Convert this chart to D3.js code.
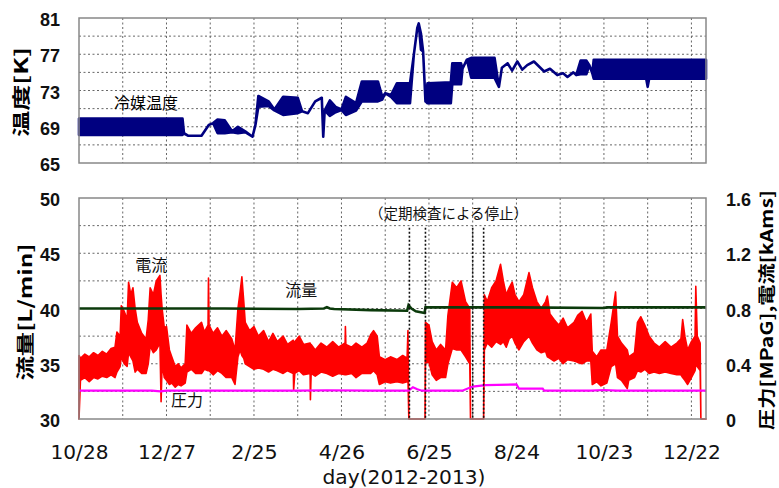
<!DOCTYPE html>
<html>
<head>
<meta charset="utf-8">
<script src="https://cdn.jsdelivr.net/npm/d3@7"></script>
<style>
body { margin: 0; background: #fff; }
svg { display: block; }
</style>
</head>
<body>
<div id="chart"></div>
<script>
// days counted from 2012-10-28
const xTickDays = [0, 60, 120, 180, 240, 300, 360, 420];
const xTickLabels = ['10/28', '12/27', '2/25', '4/26', '6/25', '8/24', '10/23', '12/22'];
const tempTicks = [65, 69, 73, 77, 81];
const flowTicks = [30, 35, 40, 45, 50];
const rightTicks = [0, 0.4, 0.8, 1.2, 1.6];

// coolant temperature [K] : low / high of the band at each day
const tempDay = [0, 71, 72, 75, 84, 89, 92, 95, 100, 105, 109, 114, 119, 121, 123, 130, 134, 140, 150, 153, 157, 162, 166.5, 167.5, 168.5, 172, 176, 180, 183, 190, 194, 205, 208, 210, 214, 218, 227, 229.6, 232, 233, 234.5, 236, 237.6, 239, 255, 256, 262, 263, 266, 269, 285, 288, 290, 294, 297, 300.6, 304, 307.4, 312, 319, 323, 328, 332, 335, 339, 341, 344, 348, 350, 352, 353, 368, 389, 390, 391, 430];
const tempLo  = [68.1, 68.1, 68.25, 68.0, 68.0, 69.2, 69.4, 68.3, 68.3, 68.4, 68.3, 68.4, 67.9, 69.2, 71.2, 71.3, 70.8, 70.3, 70.5, 70.7, 70.5, 71.8, 72.2, 67.9, 70.8, 70.2, 70.6, 70.85, 70.3, 70.8, 71.8, 71.8, 72.0, 72.7, 72.3, 71.6, 71.6, 76.9, 79.9, 80.4, 77.5, 77.3, 71.8, 71.6, 71.6, 73.7, 73.7, 75.4, 76.4, 74.4, 74.4, 73.4, 75.5, 76.0, 75.2, 76.2, 75.3, 75.8, 76.2, 75.1, 75.4, 74.7, 74.9, 74.5, 75.0, 74.7, 74.8, 74.8, 75.8, 74.9, 74.3, 74.3, 74.3, 73.4, 74.3, 74.3];
const tempHi  = [69.9, 69.9, 68.3, 68.0, 68.0, 69.2, 69.4, 69.8, 69.7, 68.5, 69.0, 68.5, 67.9, 69.2, 72.4, 71.8, 70.9, 72.3, 72.2, 70.7, 70.5, 71.8, 72.2, 67.9, 70.8, 71.9, 71.2, 70.9, 72.3, 71.6, 74.0, 74.0, 72.3, 72.7, 72.5, 73.8, 73.8, 76.9, 79.9, 80.4, 79.3, 77.3, 71.8, 73.8, 73.9, 76.0, 76.0, 75.4, 76.4, 76.6, 76.6, 73.4, 75.5, 76.0, 75.2, 76.2, 75.3, 75.8, 76.2, 75.1, 75.4, 74.7, 74.9, 74.5, 75.0, 74.7, 76.3, 76.3, 75.8, 74.9, 76.4, 76.4, 76.4, 76.4, 76.4, 76.4];

// current [kArms] : low / high of the band
const curDay = [
    0, 1, 4, 7, 10, 13, 16, 19, 22, 24.7,
    26, 28.2, 29, 31, 33, 34, 35.5, 37, 38.5, 40,
    43, 46, 47.5, 48.8, 51, 53, 55.5, 56.3, 57, 58.5,
    60, 62, 63.6, 66, 68, 70, 72.8, 74, 77, 80,
    84, 86, 88.5, 88.8, 89.2, 92, 95, 98, 101, 104.8,
    107, 109, 110.5, 111.7, 113, 114, 117, 120, 123, 126.6,
    130, 133, 136, 140, 143, 147, 147.2, 148, 151, 154,
    158.5, 158.7, 159.2, 162, 166, 170, 174, 178, 182.5, 182.7,
    183, 187, 190, 194, 197.6, 200, 202, 204.5, 206, 210,
    213.6, 218, 222, 225, 225.6, 226.2, 237.3, 237.6, 240, 242.2,
    245, 248, 251.4, 253, 256, 259, 262, 265.1, 268, 268.5,
    277.5, 278, 280, 283, 286, 289.1, 291, 293, 295, 297.1,
    299, 301.7, 305, 308.6, 311, 314, 317, 320, 321.2, 323,
    325.8, 329, 332, 335, 339.5, 342, 345, 348, 351, 352,
    355, 358, 362, 365, 368, 369.3, 372, 376, 377, 381,
    383, 385.3, 388, 391, 394.4, 398, 402, 406, 410, 412.8,
    414, 415.5, 417.4, 420, 422.5, 423, 424, 426, 426.5, 430];
const curLo = [
    0, 0.28, 0.3, 0.27, 0.3, 0.29, 0.31, 0.3, 0.32, 0.3,
    0.34, 0.38, 0.45, 0.4, 0.38, 0.48, 0.45, 0.42, 0.34, 0.36,
    0.33, 0.33, 0.4, 0.53, 0.48, 0.5, 0.55, 0.125, 0.4, 0.3,
    0.28, 0.25, 0.26, 0.23, 0.25, 0.24, 0.26, 0.34, 0.36, 0.33,
    0.33, 0.36, 0.35, 0.4, 0.35, 0.32, 0.35, 0.33, 0.3, 0.3,
    0.25, 0.45, 0.5, 0.46, 0.44, 0.4, 0.38, 0.36, 0.37, 0.36,
    0.34, 0.36, 0.35, 0.33, 0.35, 0.33, 0.21, 0.33, 0.35, 0.32,
    0.33, 0.14, 0.33, 0.31, 0.34, 0.33, 0.31, 0.33, 0.32, 0.33,
    0.32, 0.33, 0.3, 0.33, 0.33, 0.33, 0.35, 0.32, 0.25, 0.27,
    0.26, 0.27, 0.26, 0.27, 0.3, 0, 0, 0.41, 0.41, 0.32,
    0.28, 0.3, 0.3, 0.4, 0.51, 0.5, 0.5, 0.45, 0.4, 0,
    0, 0.5, 0.55, 0.52, 0.56, 0.54, 0.56, 0.52, 0.58, 0.6,
    0.55, 0.5, 0.56, 0.6, 0.55, 0.5, 0.48, 0.49, 0.45, 0.44,
    0.42, 0.44, 0.4, 0.43, 0.42, 0.41, 0.4, 0.42, 0.42, 0.25,
    0.27, 0.24, 0.26, 0.38, 0.4, 0.3, 0.28, 0.22, 0.28, 0.3,
    0.35, 0.34, 0.36, 0.33, 0.34, 0.33, 0.34, 0.33, 0.32, 0.32,
    0.3, 0.28, 0.25, 0.3, 0.35, 0.4, 0.38, 0.35, 0, 0];
const curHi = [
    0.46, 0.44, 0.47, 0.45, 0.48, 0.46, 0.49, 0.47, 0.51, 0.52,
    0.63, 0.6, 0.82, 0.78, 0.72, 0.99, 0.9, 0.95, 0.8, 0.7,
    0.62, 0.58, 0.72, 0.95, 0.9, 1.0, 1.04, 0.9, 0.8, 0.66,
    0.67, 0.5, 0.45, 0.38, 0.4, 0.37, 0.4, 0.68, 0.62, 0.66,
    0.7, 0.63, 0.68, 1.02, 0.68, 0.62, 0.66, 0.6, 0.64, 0.58,
    0.5, 0.8, 0.92, 1.03, 0.85, 0.7, 0.64, 0.67, 0.6, 0.64,
    0.56, 0.62, 0.56, 0.6, 0.54, 0.57, 0.55, 0.56, 0.6, 0.54,
    0.55, 0.52, 0.54, 0.5, 0.55, 0.52, 0.56, 0.52, 0.55, 0.67,
    0.54, 0.52, 0.55, 0.52, 0.55, 0.61, 0.64, 0.6, 0.45, 0.43,
    0.45, 0.43, 0.46, 0.44, 0.64, 0, 0, 0.7, 0.68, 0.56,
    0.5, 0.54, 0.5, 0.75, 0.99, 0.95, 1.0, 0.85, 0.8, 0,
    0, 0.9, 0.85, 0.95, 1.0, 1.12, 1.0, 0.9, 0.95, 0.99,
    0.9, 0.85, 0.9, 1.06, 0.95, 0.85, 0.8, 0.85, 0.89, 0.76,
    0.72, 0.68, 0.73, 0.66, 0.7, 0.75, 0.78, 0.7, 0.76, 0.49,
    0.45, 0.5, 0.5, 0.7, 0.92, 0.6, 0.55, 0.5, 0.45, 0.48,
    0.7, 0.74, 0.68, 0.6, 0.55, 0.52, 0.56, 0.52, 0.55, 0.58,
    0.72, 0.6, 0.5, 0.56, 0.6, 0.96, 0.6, 0.55, 0, 0];

// flow [L/min]
const flowDay = [0, 60, 100, 150, 168, 170, 172, 175, 200, 225, 226, 228, 231, 237, 237.6, 300, 360, 362, 364, 420, 430];
const flowVal = [40.0, 40.0, 40.0, 39.95, 40.0, 40.12, 40.0, 39.95, 39.85, 39.8, 40.3, 40.0, 39.75, 39.6, 40.1, 40.1, 40.05, 40.1, 40.1, 40.1, 40.1];

// pressure [MPaG]
const presDay = [0, 50, 56, 60, 150, 170, 200, 226, 229, 232, 235.3, 262.8, 270, 278.8, 300, 301.7, 318, 319, 351, 360, 369, 430];
const presVal = [0.205, 0.205, 0.2, 0.205, 0.205, 0.208, 0.205, 0.205, 0.23, 0.215, 0.205, 0.205, 0.235, 0.245, 0.25, 0.22, 0.22, 0.205, 0.205, 0.21, 0.205, 0.205];

// inspection stops
const stopDays = [226.6, 237.6, 270, 277.5];

const W = 779, H = 488;
const svg = d3.select('#chart').append('svg')
    .attr('width', W)
    .attr('height', H)
    .style('font-family', 'Liberation Sans, Arial, sans-serif');

const x = d3.scaleLinear().domain([0, 430]).range([79, 706]);
const yT = d3.scaleLinear().domain([65, 81]).range([163, 18]);
const yL = d3.scaleLinear().domain([30, 50]).range([419, 198]);
const yR = d3.scaleLinear().domain([0, 1.6]).range([419, 198]);

const jp = '"Noto Sans CJK JP", "Noto Sans CJK SC", sans-serif';
const narrow = '"Liberation Sans Narrow", "DejaVu Sans Condensed", "Liberation Sans", sans-serif';
const gridDays = d3.range(30, 430, 30);

function drawGrid(yScale, yVals) {
    const g = svg.append('g').attr('stroke', '#666').attr('stroke-width', 1).attr('stroke-dasharray', '2,2.5');
    g.selectAll('.vg').data(gridDays).enter().append('line')
        .attr('x1', d => x(d)).attr('x2', d => x(d))
        .attr('y1', yScale.range()[1]).attr('y2', yScale.range()[0]);
    g.selectAll('.hg').data(yVals).enter().append('line')
        .attr('x1', x.range()[0]).attr('x2', x.range()[1])
        .attr('y1', d => yScale(d)).attr('y2', d => yScale(d));
}

function drawFrame(yScale) {
    svg.append('rect')
        .attr('x', x.range()[0]).attr('y', yScale.range()[1])
        .attr('width', x.range()[1] - x.range()[0])
        .attr('height', yScale.range()[0] - yScale.range()[1])
        .attr('fill', 'none').attr('stroke', '#888').attr('stroke-width', 1.5);
}

function styleTicks(sel) {
    sel.selectAll('text')
        .attr('font-family', 'Liberation Sans, Arial, sans-serif')
        .attr('font-size', 18).attr('font-weight', 'bold').attr('fill', '#111').attr('dy', '0.42em');
}

// ---------- top panel ----------
drawGrid(yT, d3.range(67, 81, 2));

const tempData = tempDay.map((d, i) => ({ d: d, lo: tempLo[i], hi: tempHi[i] }));
svg.append('path')
    .datum(tempData)
    .attr('d', d3.area().x(p => x(p.d)).y0(p => yT(p.lo)).y1(p => yT(p.hi)))
    .attr('fill', '#000080')
    .attr('stroke', '#000080')
    .attr('stroke-width', 2.6)
    .attr('stroke-linejoin', 'round');

drawFrame(yT);

svg.append('g')
    .attr('transform', 'translate(' + (x.range()[0] - 19) + ',0)')
    .call(d3.axisLeft(yT).tickValues(tempTicks).tickSize(0).tickPadding(0))
    .call(g => g.select('.domain').remove())
    .call(styleTicks);

svg.append('text')
    .attr('transform', 'translate(28,92) rotate(-90)')
    .attr('text-anchor', 'middle')
    .attr('font-family', jp).attr('font-size', 18).attr('font-weight', 'bold')
    .attr('textLength', 90).attr('lengthAdjust', 'spacingAndGlyphs')
    .text('温度[K]');

svg.append('text')
    .attr('x', x(46)).attr('y', yT(71.6)).attr('dy', '0.35em')
    .attr('text-anchor', 'middle')
    .attr('font-family', jp).attr('font-size', 16)
    .text('冷媒温度');

// ---------- bottom panel ----------
drawGrid(yL, d3.range(32.5, 50, 2.5));

const curData = curDay.map((d, i) => ({ d: d, lo: curLo[i], hi: curHi[i] }));
svg.append('path')
    .datum(curData)
    .attr('d', d3.area().x(p => x(p.d)).y0(p => yR(p.lo)).y1(p => yR(p.hi)))
    .attr('fill', '#ff0000')
    .attr('stroke', '#ff0000')
    .attr('stroke-width', 1.6)
    .attr('stroke-linejoin', 'round');

svg.append('path')
    .datum(presDay.map((d, i) => [d, presVal[i]]))
    .attr('d', d3.line().x(p => x(p[0])).y(p => yR(p[1])))
    .attr('fill', 'none').attr('stroke', '#ff00ff').attr('stroke-width', 2.2);

svg.append('path')
    .datum(flowDay.map((d, i) => [d, flowVal[i]]))
    .attr('d', d3.line().x(p => x(p[0])).y(p => yL(p[1])))
    .attr('fill', 'none').attr('stroke', '#0b3a0b').attr('stroke-width', 2.6);

svg.append('g')
    .selectAll('line').data(stopDays).enter().append('line')
    .attr('x1', d => x(d)).attr('x2', d => x(d))
    .attr('y1', yL(47.3)).attr('y2', yL(30))
    .attr('stroke', '#111').attr('stroke-width', 1.6).attr('stroke-dasharray', '2,2');

drawFrame(yL);

svg.append('g')
    .attr('transform', 'translate(' + (x.range()[0] - 19) + ',0)')
    .call(d3.axisLeft(yL).tickValues(flowTicks).tickSize(0).tickPadding(0))
    .call(g => g.select('.domain').remove())
    .call(styleTicks);

svg.append('g')
    .attr('transform', 'translate(' + (x.range()[1] + 20) + ',0)')
    .call(d3.axisRight(yR).tickValues(rightTicks).tickSize(0).tickPadding(0).tickFormat(d => d === 0 ? '0' : d3.format('.1f')(d)))
    .call(g => g.select('.domain').remove())
    .call(styleTicks);

svg.append('g')
    .attr('transform', 'translate(0,' + 452 + ')')
    .call(d3.axisBottom(x).tickValues(xTickDays).tickSize(0).tickPadding(0).tickFormat((d, i) => xTickLabels[i]))
    .call(g => g.select('.domain').remove())
    .selectAll('text')
    .attr('font-family', narrow)
    .attr('font-size', 20).attr('fill', '#111').attr('dy', '0.35em')
    .attr('textLength', (d, i) => xTickLabels[i].length * 11.6)
    .attr('lengthAdjust', 'spacingAndGlyphs');

svg.append('text')
    .attr('x', 404).attr('y', 477).attr('dy', '0.35em')
    .attr('text-anchor', 'middle')
    .attr('font-family', narrow)
    .attr('font-size', 20).attr('fill', '#111')
    .attr('textLength', 163).attr('lengthAdjust', 'spacingAndGlyphs')
    .text('day(2012-2013)');

svg.append('text')
    .attr('transform', 'translate(32,312) rotate(-90)')
    .attr('text-anchor', 'middle')
    .attr('font-family', jp).attr('font-size', 18).attr('font-weight', 'bold')
    .attr('textLength', 137).attr('lengthAdjust', 'spacingAndGlyphs')
    .text('流量[L/min]');

svg.append('text')
    .attr('transform', 'translate(773,310) rotate(-90)')
    .attr('text-anchor', 'middle')
    .attr('font-family', jp).attr('font-size', 17).attr('font-weight', 'bold')
    .attr('textLength', 240).attr('lengthAdjust', 'spacingAndGlyphs')
    .text('圧力[MPaG],電流[kAms]');

const notes = [
    { t: '電流', d: 49.5, v: 43.9 },
    { t: '流量', d: 152.5, v: 41.6 },
    { t: '圧力', d: 74, v: 31.7 },
    { t: '（定期検査による停止）', d: 253.4, v: 48.6 }
];
svg.append('g').selectAll('text').data(notes).enter().append('text')
    .attr('x', n => x(n.d)).attr('y', n => yL(n.v)).attr('dy', '0.35em')
    .attr('text-anchor', 'middle')
    .attr('font-family', jp).attr('font-size', n => n.t.length > 4 ? 14.5 : 16)
    .attr('fill', '#111')
    .text(n => n.t);
</script>
</body>
</html>
